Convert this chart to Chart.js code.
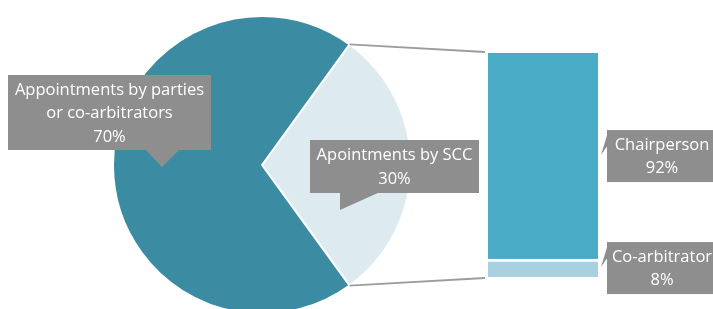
<!DOCTYPE html>
<html><head><meta charset="utf-8">
<script src="https://cdn.jsdelivr.net/npm/chart.js@4.4.1/dist/chart.umd.min.js"></script>
<style>
html,body{margin:0;padding:0;background:#fff;overflow:hidden;}
#wrap{position:relative;width:713px;height:309px;overflow:hidden;}
canvas{position:absolute;left:0;top:0;}
</style></head><body>
<div id="wrap"><canvas id="pie" width="713" height="330"></canvas><canvas id="bar" width="713" height="309"></canvas></div>
<script>
// ---- data ----
const pieLabels = ['Apointments by SCC', 'Appointments by parties\nor co-arbitrators'];
const pieValues = [30, 70];
const barLabels = ['Co-arbitrator', 'Chairperson'];
const barValues = [8, 92];

// ---- styles ----
const pieColors = ['#DDEAF0', '#3B8CA3'];
const barColors = ['#A8D0DE', '#4AABC6'];
const calloutColor = '#8E8E8E';
const FONT = '16.5px "Open Sans", Lato, sans-serif';

const pieChart = new Chart(document.getElementById('pie'), {
  type: 'pie',
  data: { labels: pieLabels, datasets: [{ data: pieValues, backgroundColor: pieColors, borderColor: '#ffffff', borderWidth: 2 }] },
  options: {
    responsive: false, animation: false, rotation: 36,
    layout: { padding: { left: 112, top: 15, right: 301, bottom: 15 } },
    plugins: { legend: { display: false }, tooltip: { enabled: false } }
  }
});

function callout(ctx, box, ptr, lines) {
  ctx.save();
  ctx.fillStyle = calloutColor;
  ctx.fillRect(box[0], box[1], box[2], box[3]);
  ctx.beginPath();
  ctx.moveTo(ptr[0][0], ptr[0][1]);
  for (let i = 1; i < ptr.length; i++) ctx.lineTo(ptr[i][0], ptr[i][1]);
  ctx.closePath(); ctx.fill();
  ctx.fillStyle = '#ffffff';
  ctx.font = FONT;
  ctx.textAlign = 'center'; ctx.textBaseline = 'middle';
  const lh = 23.5;
  const cx = box[0] + box[2] / 2;
  const cy = box[1] + box[3] / 2;
  lines.forEach((t, i) => ctx.fillText(t, cx, cy + 1 + (i - (lines.length - 1) / 2) * lh));
  ctx.restore();
}

const overlay = {
  id: 'overlay',
  afterDraw(chart) {
    const ctx = chart.ctx;
    const arcs = pieChart.getDatasetMeta(0).data;
    const a0 = arcs[0];
    const px = a0.x, py = a0.y, r = a0.outerRadius;
    const bars = chart.getDatasetMeta(1).data; // chairperson (top)
    const lows = chart.getDatasetMeta(0).data; // co-arbitrator (bottom)
    const top = bars[0], low = lows[0];
    const left = top.x - top.width / 2;
    // connector lines
    ctx.save();
    ctx.strokeStyle = '#9C9C9C'; ctx.lineWidth = 1.8;
    ctx.beginPath();
    ctx.moveTo(px + r * Math.cos(a0.startAngle), py + r * Math.sin(a0.startAngle));
    ctx.lineTo(left - 3, top.y - 1);
    ctx.moveTo(px + r * Math.cos(a0.endAngle), py + r * Math.sin(a0.endAngle));
    ctx.lineTo(left - 3, low.base + 1);
    ctx.stroke();
    ctx.restore();

    const pct = v => v + '%';
    // pie callouts
    const darkLines = pieLabels[1].split('\n').concat([pct(pieValues[1])]);
    callout(ctx, [px - 254, py - 90, 203, 75],
      [[px - 117, py - 16], [px - 100, py + 2], [px - 82, py - 16]], darkLines);
    const lightLines = pieLabels[0].split('\n').concat([pct(pieValues[0])]);
    callout(ctx, [px + 48, py - 25, 169, 53],
      [[px + 78, py + 27], [px + 78, py + 45], [px + 118, py + 27]], lightLines);
    // bar callouts
    const rx = top.x + top.width / 2;
    const segs = [[low, 0], [top, 1]];
    segs.forEach(([el, i]) => {
      const my = (el.y + el.base) / 2;
      const tip = [rx + 3, my - 1];
      callout(ctx, [rx + 9, my - 26, 110, 52],
        [[rx + 10, my - 24], tip, [rx + 10, my - 11]], [barLabels[i], pct(barValues[i])]);
    });
  }
};

new Chart(document.getElementById('bar'), {
  type: 'bar',
  data: {
    labels: ['Appointments by SCC'],
    datasets: barLabels.map((l, i) => ({
      label: l, data: [barValues[i]], backgroundColor: barColors[i],
      borderColor: '#ffffff', borderWidth: i === 0 ? { top: 3 } : 0, borderSkipped: false,
      barPercentage: 1, categoryPercentage: 1
    }))
  },
  options: {
    responsive: false, animation: false,
    layout: { padding: { left: 488, right: 115, top: 53, bottom: 32 } },
    scales: {
      x: { stacked: true, display: false },
      y: { stacked: true, display: false, min: 0, max: 100 }
    },
    plugins: { legend: { display: false }, tooltip: { enabled: false } }
  },
  plugins: [overlay]
});
</script>
</body></html>
